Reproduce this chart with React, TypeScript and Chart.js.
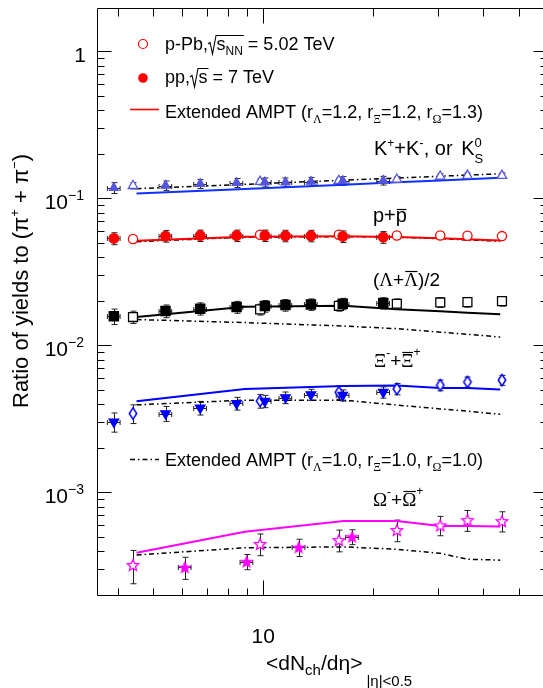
import React, { useEffect, useRef } from 'react';
import { Chart, registerables } from 'chart.js';
Chart.register(...registerables);

// ---------------- data ----------------
const ppX = [3.9, 5.4, 6.72, 8.45, 10.1, 11.5, 13.5, 16.5, 21.3];
const pPbX = [4.4, 9.8, 16.1, 23.2, 30.5, 36.2, 45.0];
const amptX = [4.5, 8.9, 16.6, 23.2, 30.5, 36.2, 44.5];
const ppOmegaX = [6.1, 9.0, 12.5, 17.5];

const kPP = [0.118, 0.1224, 0.1257, 0.1277, 0.1288, 0.1288, 0.13, 0.1317, 0.1323];
const kPPErr = [0.01, 0.009, 0.009, 0.009, 0.009, 0.009, 0.009, 0.009, 0.009];
const kPPb = [0.122, 0.13, 0.132, 0.1345, 0.141, 0.143, 0.143];
const kPPbErr = [0.006, 0.006, 0.006, 0.006, 0.006, 0.006, 0.006];
const kAmpt12 = [0.108, 0.116, 0.124, 0.129, 0.1325, 0.135, 0.138];
const kAmpt10 = [0.1165, 0.1247, 0.133, 0.1378, 0.1416, 0.1442, 0.147];

const pPP = [0.0534, 0.0554, 0.0559, 0.0559, 0.0559, 0.0557, 0.0557, 0.0551, 0.0545];
const pPPErr = [0.005, 0.005, 0.005, 0.005, 0.005, 0.005, 0.005, 0.005, 0.005];
const pPPb = [0.0529, 0.0566, 0.0566, 0.056, 0.056, 0.0557, 0.0554];
const pPPbErr = [0.003, 0.003, 0.003, 0.003, 0.003, 0.003, 0.003];
const pAmpt12 = [0.0515, 0.0548, 0.0552, 0.0546, 0.0535, 0.0528, 0.0517];
const pAmpt10 = [0.0508, 0.0545, 0.055, 0.0545, 0.0532, 0.0522, 0.0512];

const lamPP = [0.01577, 0.01714, 0.01778, 0.01824, 0.01852, 0.0188, 0.019, 0.0192, 0.0194];
const lamPPErr = [0.0019, 0.0017, 0.0017, 0.0017, 0.0017, 0.0017, 0.0017, 0.0017, 0.0017];
const lamPPb = [0.0156, 0.01758, 0.0186, 0.0192, 0.0196, 0.0197, 0.02];
const lamPPbErr = [0.0015, 0.0015, 0.0015, 0.0015, 0.0015, 0.0015, 0.0015];
const lamAmpt12 = [0.0156, 0.0183, 0.0186, 0.0176, 0.0171, 0.0167, 0.0163];
const lamAmpt10 = [0.015, 0.0143, 0.01355, 0.013, 0.0123, 0.0119, 0.0114];

const xiPP = [0.00302, 0.00344, 0.00376, 0.00403, 0.00417, 0.00442, 0.00463, 0.00458, 0.0048];
const xiPPErr = [0.00045, 0.0004, 0.0004, 0.0004, 0.0004, 0.0004, 0.0004, 0.0004, 0.00042];
const xiPPb = [0.00344, 0.00419, 0.0048, 0.00506, 0.00536, 0.00564, 0.0058];
const xiPPbErr = [0.0005, 0.00045, 0.0005, 0.00045, 0.00045, 0.00045, 0.00045];
const xiAmpt12 = [0.00417, 0.00506, 0.0053, 0.00533, 0.00513, 0.00513, 0.00501];
const xiAmpt10 = [0.00394, 0.00424, 0.00424, 0.00393, 0.0037, 0.00357, 0.0034];

const omPP = [0.000309, 0.000338, 0.000423, 0.000499];
const omPPErr = [0.000053, 0.00004, 0.000057, 0.000058];
const omPPb = [0.000321, 0.000446, 0.000474, 0.000555, 0.000597, 0.000648, 0.000638];
const omPPbErr = [0.000082, 0.000075, 0.00008, 0.000093, 0.00009, 0.000105, 0.0001];
const omAmpt13 = [0.000389, 0.00054, 0.000638, 0.000638, 0.00059, 0.00059, 0.000586];
const omAmpt10 = [0.000375, 0.00042, 0.000426, 0.00041, 0.000385, 0.000351, 0.000346];

const xTickLabels = ['10'];
const yTickLabels = [
  { v: 1, base: '1', exp: '' },
  { v: 0.1, base: '10', exp: '\u22121' },
  { v: 0.01, base: '10', exp: '\u22122' },
  { v: 0.001, base: '10', exp: '\u22123' },
];

// ---------------- style ----------------
const X_MIN = 3.507, X_MAX = 59.76, Y_MIN = 2.02e-4, Y_MAX = 1.981;
const SANS = '"Liberation Sans", Arial, Helvetica, sans-serif';
const SERIF = '"Liberation Serif", "Times New Roman", serif';
const C_K = '#5555dd';
const C_KLINE = '#1030ff';
const C_RED = '#ff0000';
const C_BLUE = '#0000ff';
const C_MAG = '#ff00ff';
const DASHDOT = [5, 3, 1.5, 3];

function makeStar(R: number, fill: string, stroke: string) {
  const c = document.createElement('canvas');
  const size = Math.ceil(R * 2 + 4);
  c.width = size; c.height = size;
  const g = c.getContext('2d')!;
  const cx = size / 2, cy = size / 2 + R * 0.1;
  g.beginPath();
  for (let i = 0; i < 10; i++) {
    const r = i % 2 === 0 ? R : R * 0.45;
    const a = -Math.PI / 2 + (i * Math.PI) / 5;
    const px = cx + r * Math.cos(a), py = cy + r * Math.sin(a);
    if (i === 0) g.moveTo(px, py); else g.lineTo(px, py);
  }
  g.closePath();
  g.fillStyle = fill; g.fill();
  g.lineWidth = 1.3; g.strokeStyle = stroke; g.stroke();
  return c;
}
function makeDiamond(w: number, h: number, stroke: string) {
  const c = document.createElement('canvas');
  c.width = Math.ceil(w + 4); c.height = Math.ceil(h + 4);
  const g = c.getContext('2d')!;
  const cx = c.width / 2, cy = c.height / 2;
  g.beginPath();
  g.moveTo(cx, cy - h / 2); g.lineTo(cx + w / 2, cy); g.lineTo(cx, cy + h / 2); g.lineTo(cx - w / 2, cy); g.closePath();
  g.fillStyle = '#fff'; g.fill();
  g.lineWidth = 1.5; g.strokeStyle = stroke; g.stroke();
  return c;
}

const pts = (xs: number[], ys: number[]) => xs.map((x, i) => ({ x, y: ys[i] }));

type Seg = { t: string; s?: number; dy?: number; f?: string; bar?: boolean; noAdv?: boolean; dx?: number };
function drawRich(ctx: CanvasRenderingContext2D, segs: Seg[], x: number, y: number, base: number, baseFont = SANS) {
  let cx = x;
  ctx.textAlign = 'left';
  ctx.textBaseline = 'alphabetic';
  for (const g of segs) {
    const size = g.s ?? base;
    ctx.font = `${size}px ${g.f ?? baseFont}`;
    cx += g.dx ?? 0;
    const m = ctx.measureText(g.t);
    const yy = y + (g.dy ?? 0);
    ctx.fillText(g.t, cx, yy);
    if (g.bar) {
      const top = Math.round(yy - m.actualBoundingBoxAscent - 2) + 0.5;
      ctx.beginPath(); ctx.moveTo(cx + 1, top); ctx.lineTo(cx + m.width - 0.5, top);
      ctx.lineWidth = 1.2; ctx.stroke();
    }
    if (!g.noAdv) cx += m.width;
  }
  return cx;
}
function richWidth(ctx: CanvasRenderingContext2D, segs: Seg[], base: number, baseFont = SANS) {
  let w = 0;
  for (const g of segs) {
    ctx.font = `${g.s ?? base}px ${g.f ?? baseFont}`;
    w += (g.dx ?? 0) + (g.noAdv ? 0 : ctx.measureText(g.t).width);
  }
  return w;
}
function drawSqrt(ctx: CanvasRenderingContext2D, x0: number, y: number, endX: number) {
  ctx.beginPath();
  ctx.moveTo(x0, y - 6); ctx.lineTo(x0 + 2, y - 7.5); ctx.lineTo(x0 + 4.5, y + 4);
  ctx.lineTo(x0 + 8, y - 14.5); ctx.lineTo(endX, y - 14.5);
  ctx.lineWidth = 1.1; ctx.stroke();
}

const errorBars = {
  id: 'errorBars',
  beforeDatasetsDraw(chart: any) {
    const ctx = chart.ctx as CanvasRenderingContext2D;
    const xs = chart.scales.x, ys = chart.scales.y;
    ctx.save();
    ctx.strokeStyle = '#222';
    ctx.lineWidth = 1;
    chart.data.datasets.forEach((ds: any) => {
      if (!ds.errY) return;
      ds.data.forEach((p: any, j: number) => {
        const px = Math.round(xs.getPixelForValue(p.x)) + 0.5;
        const py = ys.getPixelForValue(p.y);
        const e = ds.errY[j];
        const t = ys.getPixelForValue(p.y + e), b = ys.getPixelForValue(p.y - e);
        ctx.beginPath();
        ctx.moveTo(px, t); ctx.lineTo(px, b);
        ctx.moveTo(px - 3, t); ctx.lineTo(px + 3, t);
        ctx.moveTo(px - 3, b); ctx.lineTo(px + 3, b);
        if (ds.errX) {
          const l = xs.getPixelForValue(p.x * (1 - ds.errX)), r = xs.getPixelForValue(p.x * (1 + ds.errX));
          const yy = Math.round(py) + 0.5;
          ctx.moveTo(l, yy); ctx.lineTo(r, yy);
          ctx.moveTo(l, yy - 2.5); ctx.lineTo(l, yy + 2.5);
          ctx.moveTo(r, yy - 2.5); ctx.lineTo(r, yy + 2.5);
        }
        ctx.stroke();
      });
    });
    ctx.restore();
  },
};

const frameAndText = {
  id: 'frameAndText',
  afterDraw(chart: any) {
    const ctx = chart.ctx as CanvasRenderingContext2D;
    const a = chart.chartArea;
    const xs = chart.scales.x, ys = chart.scales.y;
    ctx.save();
    ctx.strokeStyle = '#000';
    ctx.fillStyle = '#000';
    ctx.lineWidth = 1;
    const L = Math.round(a.left) + 0.5, R = Math.round(a.right) + 0.5, T = Math.round(a.top) + 0.5, B = Math.round(a.bottom) + 0.5;
    ctx.beginPath();
    ctx.moveTo(L, T); ctx.lineTo(R, T); ctx.lineTo(R, B); ctx.lineTo(L, B); ctx.closePath();
    ctx.stroke();
    ctx.beginPath();
    for (let e = -4; e <= 0; e++) {
      for (let m = 1; m <= 9; m++) {
        const v = m * Math.pow(10, e);
        if (v < Y_MIN || v > Y_MAX) continue;
        const py = Math.round(ys.getPixelForValue(v)) + 0.5;
        const len = m === 1 ? 14 : 7;
        ctx.moveTo(L, py); ctx.lineTo(L + len, py);
        ctx.moveTo(R, py); ctx.lineTo(R - len, py);
      }
    }
    for (let e = 0; e <= 1; e++) {
      for (let m = 1; m <= 9; m++) {
        const v = m * Math.pow(10, e);
        if (v < X_MIN || v > X_MAX) continue;
        const px = Math.round(xs.getPixelForValue(v)) + 0.5;
        const len = m === 1 ? 15 : 7;
        ctx.moveTo(px, B); ctx.lineTo(px, B - len);
        ctx.moveTo(px, T); ctx.lineTo(px, T + (m === 1 ? 15 : 8));
      }
    }
    ctx.stroke();

    // y tick labels
    for (const lab of yTickLabels) {
      const py = ys.getPixelForValue(lab.v);
      const segs: Seg[] = [{ t: lab.base }];
      if (lab.exp) segs.push({ t: lab.exp, s: 14, dy: -9 });
      const w = richWidth(ctx, segs, 21);
      drawRich(ctx, segs, 84 - w + (lab.exp ? 0 : 2), py + 10.5, 21);
    }
    // x tick label
    ctx.font = `21px ${SANS}`;
    ctx.textAlign = 'center';
    ctx.fillText(xTickLabels[0], xs.getPixelForValue(10), 643);

    // axis titles
    drawRich(ctx, [
      { t: '<dN' }, { t: 'ch', s: 15, dy: 5 }, { t: '/d\u03b7>' }, { t: '|\u03b7|<0.5', s: 15, dy: 16, dx: 4 },
    ], 266, 670, 21);
    ctx.save();
    ctx.translate(28, 408);
    ctx.rotate(-Math.PI / 2);
    drawRich(ctx, [
      { t: 'Ratio of yields to (\u03c0' }, { t: '+', s: 13, dy: -9 }, { t: ' + \u03c0' }, { t: '\u2212', s: 13, dy: -9 }, { t: ')' },
    ], 0, 0, 22);
    ctx.restore();

    // legend
    ctx.lineWidth = 1.2;
    ctx.strokeStyle = C_RED; ctx.fillStyle = C_RED;
    ctx.beginPath(); ctx.arc(143, 44, 4.5, 0, Math.PI * 2); ctx.stroke();
    ctx.beginPath(); ctx.arc(143, 78, 4.8, 0, Math.PI * 2); ctx.fill();
    ctx.lineWidth = 1.6;
    ctx.beginPath(); ctx.moveTo(130, 109.5); ctx.lineTo(159, 109.5); ctx.stroke();
    ctx.strokeStyle = '#000'; ctx.setLineDash(DASHDOT);
    ctx.beginPath(); ctx.moveTo(130, 459.5); ctx.lineTo(159, 459.5); ctx.stroke();
    ctx.setLineDash([]);

    ctx.fillStyle = '#000'; ctx.strokeStyle = '#000';
    let x1 = drawRich(ctx, [{ t: 'p-Pb,' }], 165, 50, 18);
    let sx = drawRich(ctx, [{ t: 's' }, { t: 'NN', s: 12, dy: 5 }], x1 + 8.5, 50, 18);
    drawSqrt(ctx, x1, 50, sx + 1);
    drawRich(ctx, [{ t: ' = 5.02 TeV' }], sx, 50, 18);

    x1 = drawRich(ctx, [{ t: 'pp,' }], 165, 83, 18);
    sx = drawRich(ctx, [{ t: 's' }], x1 + 8.5, 83, 18);
    drawSqrt(ctx, x1, 83, sx + 1);
    drawRich(ctx, [{ t: ' = 7 TeV' }], sx, 83, 18);

    const amptSegs = (a1: string, a2: string, a3: string): Seg[] => [
      { t: 'Extended AMPT (r' }, { t: '\u039b', s: 12, dy: 5, f: SERIF }, { t: '=' + a1 + ', r' },
      { t: '\u039e', s: 12, dy: 5, f: SERIF }, { t: '=' + a2 + ', r' }, { t: '\u03a9', s: 12, dy: 5, f: SERIF }, { t: '=' + a3 + ')' },
    ];
    drawRich(ctx, amptSegs('1.2', '1.2', '1.3'), 165, 118, 18);
    drawRich(ctx, amptSegs('1.0', '1.0', '1.0'), 165, 465.5, 18);

    // species labels
    drawRich(ctx, [
      { t: 'K' }, { t: '+', s: 12, dy: -8 }, { t: '+K' }, { t: '-', s: 13, dy: -8 }, { t: ', or ' }, { t: 'K', dx: 3 },
      { t: '0', s: 13, dy: -8, noAdv: true }, { t: 'S', s: 13, dy: 8 },
    ], 374, 155, 20);
    drawRich(ctx, [{ t: 'p+' }, { t: 'p', bar: true }], 373, 221.5, 20);
    drawRich(ctx, [
      { t: '(' }, { t: '\u039b', f: SERIF }, { t: '+' }, { t: '\u039b', f: SERIF, bar: true }, { t: ')/2' },
    ], 373, 286, 19);
    drawRich(ctx, [
      { t: '\u039e', f: SERIF }, { t: '-', s: 12, dy: -10 }, { t: '+' }, { t: '\u039e', f: SERIF, bar: true }, { t: '+', s: 12, dy: -11 },
    ], 374, 367, 19);
    drawRich(ctx, [
      { t: '\u03a9', f: SERIF }, { t: '-', s: 12, dy: -10 }, { t: '+' }, { t: '\u03a9', f: SERIF, bar: true }, { t: '+', s: 12, dy: -11 },
    ], 373, 506, 19);

    ctx.restore();
  },
};

export default function App() {
  const ref = useRef<HTMLCanvasElement>(null);
  useEffect(() => {
    const canvas = ref.current!;
    const starOpen = makeStar(6, '#ffffff', C_MAG);
    const starFill = makeStar(5.5, C_MAG, C_MAG);
    const diamond = makeDiamond(7.5, 11.5, C_BLUE);

    const marker = (data: any[], errY: number[], errX: number | null, style: any, color: string, fill: string, radius: number, extra: any = {}) => ({
      data, errY, errX, showLine: false, pointStyle: style, pointRadius: radius, pointHoverRadius: radius,
      pointBorderColor: color, pointBackgroundColor: fill, pointBorderWidth: 1.3, borderColor: color, backgroundColor: fill, order: 0, ...extra,
    });
    const line = (ys: number[], color: string, dashed: boolean) => ({
      data: pts(amptX, ys), showLine: true, pointRadius: 0, pointHoverRadius: 0,
      borderColor: color, borderWidth: dashed ? 1.5 : 2, borderDash: dashed ? DASHDOT : [], fill: false, order: 1,
    });

    const datasets: any[] = [
      marker(pts(ppX, kPP), kPPErr, 0.04, 'triangle', C_K, C_K, 5),
      marker(pts(pPbX, kPPb), kPPbErr, null, 'triangle', C_K, '#ffffff', 5.5),
      marker(pts(ppX, pPP), pPPErr, 0.04, 'circle', C_RED, C_RED, 4.8),
      marker(pts(pPbX, pPPb), pPPbErr, null, 'circle', C_RED, '#ffffff', 4.6),
      marker(pts(ppX, lamPP), lamPPErr, 0.04, 'rect', '#000', '#000', 6.5),
      marker(pts(pPbX, lamPPb), lamPPbErr, null, 'rect', '#000', '#ffffff', 6.3),
      marker(pts(ppX, xiPP), xiPPErr, 0.04, 'triangle', C_BLUE, C_BLUE, 5.5, { pointRotation: 180 }),
      marker(pts(pPbX, xiPPb), xiPPbErr, null, diamond, C_BLUE, '#ffffff', 5),
      marker(pts(ppOmegaX, omPP), omPPErr, 0.04, starFill, C_MAG, C_MAG, 5),
      marker(pts(pPbX, omPPb), omPPbErr, null, starOpen, C_MAG, '#ffffff', 5),
      line(kAmpt12, C_KLINE, false),
      line(kAmpt10, '#000', true),
      line(pAmpt12, C_RED, false),
      line(pAmpt10, '#000', true),
      line(lamAmpt12, '#000', false),
      line(lamAmpt10, '#000', true),
      line(xiAmpt12, C_BLUE, false),
      line(xiAmpt10, '#000', true),
      line(omAmpt13, C_MAG, false),
      line(omAmpt10, '#000', true),
    ];

    const chart = new Chart(canvas, {
      type: 'scatter',
      data: { datasets },
      options: {
        responsive: false,
        animation: false,
        devicePixelRatio: 1,
        events: [],
        layout: { padding: { left: 97, right: 13, top: 7, bottom: 93.5 } },
        plugins: { legend: { display: false }, tooltip: { enabled: false } },
        scales: {
          x: { type: 'logarithmic', min: X_MIN, max: X_MAX, display: false },
          y: { type: 'logarithmic', min: Y_MIN, max: Y_MAX, display: false },
        },
      },
      plugins: [errorBars, frameAndText],
    } as any);
    return () => chart.destroy();
  }, []);
  return (
    <div style={{ position: 'fixed', left: 0, top: 0, width: 543, height: 688, overflow: 'hidden', background: '#fff' }}>
      <canvas ref={ref} width={560} height={688} style={{ display: 'block', width: 560, height: 688 }} />
    </div>
  );
}
